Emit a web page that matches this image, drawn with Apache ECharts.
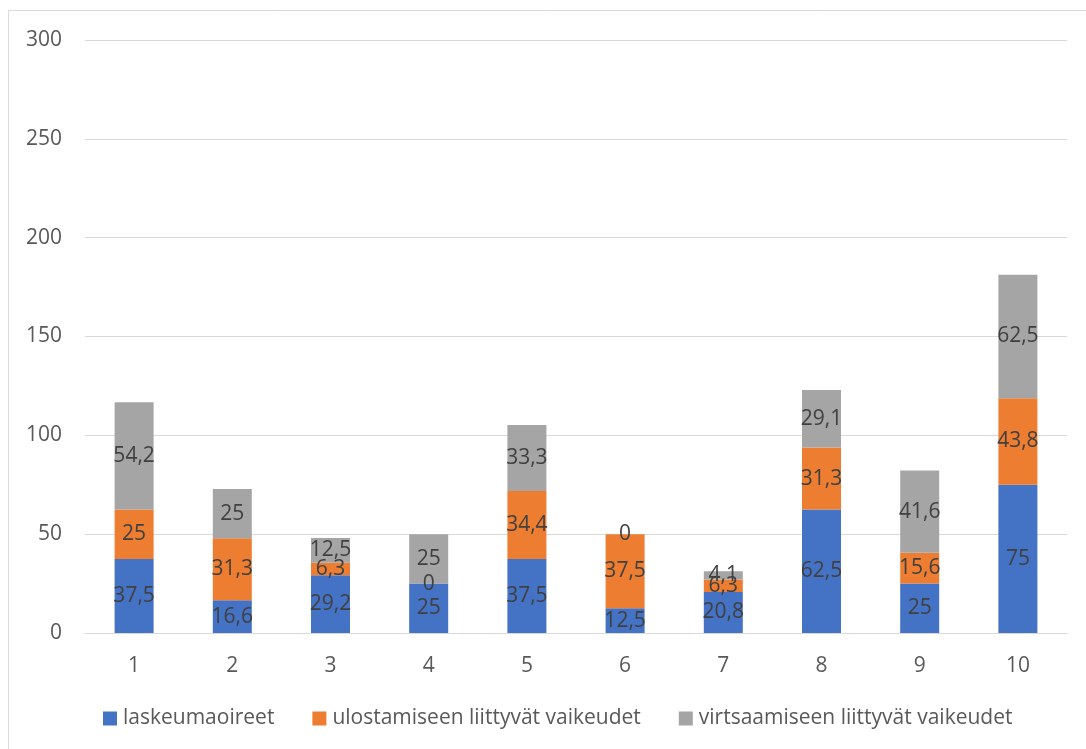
<!DOCTYPE html>
<html style="height: 100%">
<head>
<meta charset="utf-8">
</head>
<body style="height: 100%; margin: 0; background: #fff">
<div id="container" style="width: 1086px; height: 749px"></div>
<script type="text/javascript" src="https://cdn.jsdelivr.net/npm/echarts@6/dist/echarts.min.js"></script>
<script type="text/javascript">
var categories = ['1', '2', '3', '4', '5', '6', '7', '8', '9', '10'];
var laskeuma = [37.5, 16.6, 29.2, 25, 37.5, 12.5, 20.8, 62.5, 25, 75];
var ulostaminen = [25, 31.3, 6.3, 0, 34.4, 37.5, 6.3, 31.3, 15.6, 43.8];
var virtsaaminen = [54.2, 25, 12.5, 25, 33.3, 0, 4.1, 29.1, 41.6, 62.5];

var font = '"Open Sans", "Noto Sans", sans-serif';

function segment(name, data, color) {
    return {
        name: name,
        type: 'bar',
        stack: 'total',
        data: data,
        barWidth: 39,
        itemStyle: { color: color },
        label: {
            show: true,
            position: 'inside',
            color: '#404040',
            fontSize: 21,
            fontFamily: font,
            formatter: function (p) {
                return String(p.value).replace('.', ',');
            }
        }
    };
}

var myChart = echarts.init(document.getElementById('container'));
var option = {
    backgroundColor: '#fff',
    animation: false,
    graphic: [{
        type: 'rect',
        shape: { x: 8.5, y: 10.5, width: 1100, height: 760 },
        style: { fill: 'none', stroke: '#d9d9d9', lineWidth: 1 }
    }],
    grid: { left: 85, right: 19, top: 40, bottom: 116 },
    legend: {
        top: 703,
        left: 98,
        itemWidth: 14,
        itemHeight: 14,
        itemGap: 38,
        icon: 'rect',
        textStyle: { color: '#595959', fontSize: 21, fontFamily: font, padding: [0, 0, 0, 1] },
        data: ['laskeumaoireet', 'ulostamiseen liittyvät vaikeudet', 'virtsaamiseen liittyvät vaikeudet']
    },
    xAxis: {
        type: 'category',
        data: categories,
        axisTick: { show: false },
        axisLine: { lineStyle: { color: '#d9d9d9', width: 1 } },
        axisLabel: { color: '#595959', fontSize: 21, fontFamily: font, margin: 23 }
    },
    yAxis: {
        type: 'value',
        min: 0,
        max: 300,
        interval: 50,
        axisLabel: { color: '#595959', fontSize: 21, fontFamily: font, margin: 23 },
        splitLine: { lineStyle: { color: '#d9d9d9', width: 1 } }
    },
    series: [
        segment('laskeumaoireet', laskeuma, '#4472c4'),
        segment('ulostamiseen liittyvät vaikeudet', ulostaminen, '#ed7d31'),
        segment('virtsaamiseen liittyvät vaikeudet', virtsaaminen, '#a5a5a5')
    ]
};
myChart.setOption(option);
</script>
</body>
</html>
